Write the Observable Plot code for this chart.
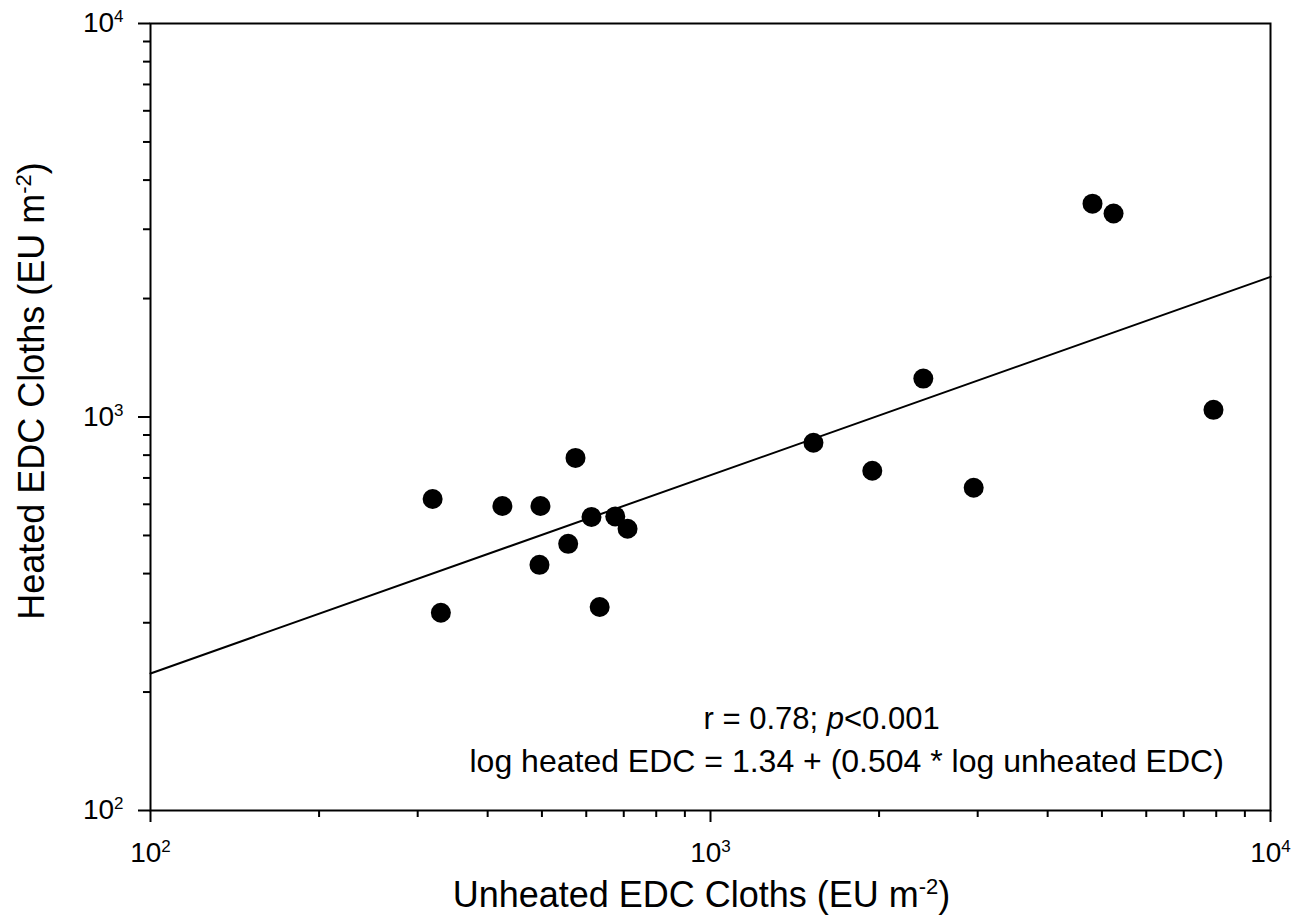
<!DOCTYPE html>
<html>
<head>
<meta charset="utf-8">
<script src="https://cdn.jsdelivr.net/npm/d3@7"></script>
<script src="https://cdn.jsdelivr.net/npm/@observablehq/plot@0.6"></script>
<style>
  html, body { margin: 0; padding: 0; background: #fff; }
  #chart svg { display: block; }
</style>
</head>
<body>
<div id="chart"></div>
<script>
// ---- Data ----
const unheated = [319, 330, 425, 497, 495, 574, 557, 613, 676, 711, 634, 1527, 1945, 2399, 2951, 4810, 5245, 7910];
const heated   = [619, 318, 594, 594, 421, 787, 476, 557, 559, 520, 329, 860, 730, 1252, 661, 3484, 3289, 1043];

// Regression line end points (log heated = 1.34 + 0.504 log unheated)
const fitUnheated = [100, 10000];
const fitHeated   = [223, 2270];

// Ticks and labels
const majorTicks = [100, 1000, 10000];
const majorTickLabels = ["10^2^", "10^3^", "10^4^"];
const minorTicks = [200, 300, 400, 500, 600, 700, 800, 900, 2000, 3000, 4000, 5000, 6000, 7000, 8000, 9000];

const xTitle = "Unheated EDC Cloths (EU m^-2^)";
const yTitle = "Heated EDC Cloths (EU m^-2^)";
const statText = "r = 0.78; _p_<0.001";
const eqText = "log heated EDC = 1.34 + (0.504 * log unheated EDC)";

// ---- Build tables ----
const points = unheated.map((u, i) => ({u, h: heated[i]}));
const fit = fitUnheated.map((u, i) => ({u, h: fitHeated[i]}));
const ticks = majorTicks.map((v, i) => ({v, label: majorTickLabels[i]}));

const chart = Plot.plot({
  width: 1311,
  height: 923,
  marginLeft: 150,
  marginRight: 41,
  marginTop: 23,
  marginBottom: 113,
  x: {type: "log", domain: [100, 10000]},
  y: {type: "log", domain: [100, 10000]},
  style: {fontFamily: "Arial, 'Liberation Sans', sans-serif", color: "#000", background: "#fff"},
  marks: [
    Plot.axisX(minorTicks, {tickSize: 7, strokeWidth: 2, tickFormat: () => "", label: null}),
    Plot.axisX(majorTicks, {tickSize: 12, strokeWidth: 2, tickFormat: () => "", label: null}),
    Plot.axisY(minorTicks, {tickSize: 7, strokeWidth: 2, tickFormat: () => "", label: null}),
    Plot.axisY(majorTicks, {tickSize: 12, strokeWidth: 2, tickFormat: () => "", label: null}),
    // tick labels
    Plot.text(ticks, {x: "v", text: "label", frameAnchor: "bottom", lineAnchor: "top", textAnchor: "middle", dy: 32, fontSize: 28, fill: "#000"}),
    Plot.text(ticks, {y: "v", text: "label", frameAnchor: "left", lineAnchor: "middle", textAnchor: "end", dx: -27, fontSize: 28, fill: "#000"}),
    Plot.frame({stroke: "#000", strokeWidth: 2}),
    Plot.line(fit, {x: "u", y: "h", stroke: "#000", strokeWidth: 2}),
    Plot.dot(points, {x: "u", y: "h", r: 10, fill: "#000", stroke: "none"}),
    Plot.text([statText], {frameAnchor: "bottom-left", textAnchor: "start", dx: 553, dy: -82, fontSize: 31, fill: "#000"}),
    Plot.text([eqText], {frameAnchor: "bottom-left", textAnchor: "start", dx: 319, dy: -39, fontSize: 32, fill: "#000"}),
    Plot.text([xTitle], {frameAnchor: "bottom", textAnchor: "middle", dx: -9, dy: 96, fontSize: 36, fill: "#000"}),
    Plot.text([yTitle], {frameAnchor: "left", textAnchor: "middle", rotate: -90, dx: -118, dy: -26, fontSize: 36, fill: "#000"})
  ]
});

document.getElementById("chart").appendChild(chart);

// ---- Rich text: ^sup^ and _italic_ ----
const NS = "http://www.w3.org/2000/svg";
chart.querySelectorAll("text").forEach(t => {
  const s = t.textContent;
  if (!/[\^_]/.test(s)) return;
  const fs = parseFloat(getComputedStyle(t).fontSize) || 28;
  const supSize = Math.round(fs * 0.62);
  const shift = Math.round(fs * 0.37);
  const parts = s.split(/(\^[^\^]*\^|_[^_]*_)/).filter(p => p !== "");
  t.textContent = "";
  let raised = 0;
  for (const p of parts) {
    const ts = document.createElementNS(NS, "tspan");
    if (p.startsWith("^")) {
      ts.textContent = p.slice(1, -1);
      ts.setAttribute("font-size", supSize);
      ts.setAttribute("dy", -shift);
      raised = shift;
    } else {
      if (p.startsWith("_")) {
        ts.textContent = p.slice(1, -1);
        ts.setAttribute("font-style", "italic");
      } else {
        ts.textContent = p;
      }
      if (raised) { ts.setAttribute("dy", raised); raised = 0; }
    }
    t.appendChild(ts);
  }
});
</script>
</body>
</html>
